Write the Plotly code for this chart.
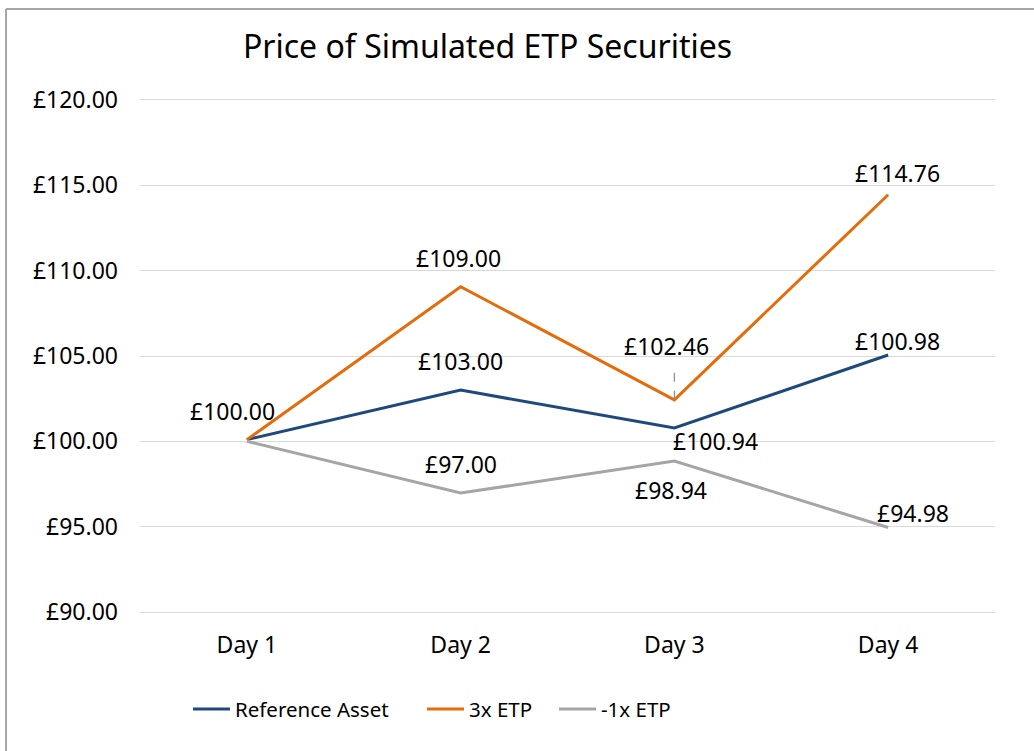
import plotly.graph_objects as go

days = ["Day 1", "Day 2", "Day 3", "Day 4"]
series_names = ["Reference Asset", "3x ETP", "-1x ETP"]
ref_asset = [100.1, 103.0, 100.78, 105.06]
etp_3x = [100.1, 109.06, 102.43, 114.45]
etp_neg1x = [100.0, 96.97, 98.85, 94.95]
ref_labels = ["", "£103.00", "£100.94", "£100.98"]
etp3_labels = ["£100.00", "£109.00", "£102.46", "£114.76"]
neg_labels = ["", "£97.00", "£98.94", "£94.98"]
y_ticks = [90, 95, 100, 105, 110, 115, 120]
y_tick_text = ["£%.2f" % v for v in y_ticks]

colors = ["#1F497D", "#E46C0A", "#A5A5A5"]
FONT = "Noto Sans"
legend_ids = ["legend", "legend2", "legend3"]
legend_x = [0.0561, 0.3298, 0.4842]

fig = go.Figure()
for name, vals, col, lid in zip(series_names, [ref_asset, etp_3x, etp_neg1x], colors, legend_ids):
    fig.add_trace(go.Scatter(x=days, y=vals, name=name, mode="lines",
                             line=dict(color=col, width=3), legend=lid))

# data label offsets (pixels) to mimic Excel placement
ref_off = [(0, 0), (0, 29), (41, -13), (9, 14)]
etp3_off = [(-14, 29), (-2, 29), (-8, 54), (9, 22)]
neg_off = [(0, 0), (0, 29), (-3, -29), (25, 15)]

annotations = []
for labels, vals, offs in [(ref_labels, ref_asset, ref_off),
                           (etp3_labels, etp_3x, etp3_off),
                           (neg_labels, etp_neg1x, neg_off)]:
    for d, lab, v, (dx, dy) in zip(days, labels, vals, offs):
        if lab:
            annotations.append(dict(x=d, y=v, text=lab, showarrow=False,
                                    xshift=dx, yshift=dy,
                                    font=dict(family=FONT, size=23, color="#000000")))

shapes = [
    # leader line for 3x ETP Day 3 label
    dict(type="line", xref="x", yref="y", x0="Day 3", x1="Day 3",
         y0=etp_3x[2], y1=etp_3x[2] + 1.75,
         line=dict(color="#8C8C8C", width=1.2, dash="dash")),
    # chart-area border (top and left visible)
    dict(type="line", xref="paper", yref="paper", x0=-0.1567, x1=1.08,
         y0=1.1777, y1=1.1777, line=dict(color="#A6A6A6", width=2)),
    dict(type="line", xref="paper", yref="paper", x0=-0.1567, x1=-0.1567,
         y0=1.1777, y1=-0.32, line=dict(color="#A6A6A6", width=2)),
]

legend_common = dict(orientation="h", y=-0.19, yanchor="middle",
                     font=dict(family=FONT, size=20.5, color="#000000"),
                     itemwidth=37, bgcolor="rgba(0,0,0,0)")

fig.update_layout(
    width=1034, height=751,
    margin=dict(l=140, r=39, t=100, b=139),
    paper_bgcolor="white", plot_bgcolor="white",
    font=dict(family=FONT, size=23, color="#000000"),
    title=dict(text="Price of Simulated ETP Securities", x=0.4715, xanchor="center",
               xref="container", y=0.9374, yanchor="middle", yref="container",
               font=dict(family=FONT, size=32, color="#000000")),
    xaxis=dict(type="category", range=[-0.5, 3.5], showgrid=False,
               showline=True, mirror=True, linecolor="#D9D9D9", linewidth=1,
               zeroline=False, ticks="", ticklabelstandoff=12,
               tickfont=dict(family=FONT, size=23)),
    yaxis=dict(range=[90, 120], tickvals=y_ticks, ticktext=y_tick_text,
               showgrid=True, gridcolor="#D9D9D9", gridwidth=1, zeroline=False,
               showline=False, ticks="", ticklabelstandoff=21,
               tickfont=dict(family=FONT, size=23)),
    legend=dict(x=legend_x[0], **legend_common),
    legend2=dict(x=legend_x[1], **legend_common),
    legend3=dict(x=legend_x[2], **legend_common),
    annotations=annotations,
    shapes=shapes,
    showlegend=True,
)

fig.write_html("out.html", config={"displayModeBar": False},
               post_script="document.body.style.margin='0';document.body.style.padding='0';"
                           "document.body.style.overflow='hidden';")
